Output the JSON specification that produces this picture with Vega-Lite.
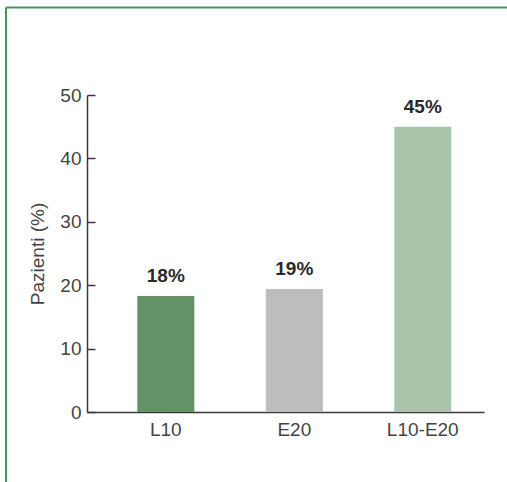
{
  "$schema": "https://vega.github.io/schema/vega-lite/v6.json",
  "width": 397,
  "height": 317,
  "autosize": "none",
  "padding": {"left": 87, "top": 95, "right": 23, "bottom": 70},
  "config": {
    "view": {"stroke": null},
    "font": "Liberation Sans",
    "axis": {
      "domainColor": "#3a3a3a",
      "domainWidth": 1.5,
      "tickColor": "#3a3a3a",
      "tickWidth": 1.5,
      "labelColor": "#444444",
      "labelFont": "Liberation Sans",
      "labelFontSize": 19,
      "titleColor": "#444444",
      "titleFont": "Liberation Sans",
      "titleFontSize": 19,
      "titleFontWeight": "normal",
      "grid": false
    }
  },
  "layer": [
    {
      "data": {
        "values": [
          {"group": "L10", "value": 18.3, "label": "18%"},
          {"group": "E20", "value": 19.4, "label": "19%"},
          {"group": "L10-E20", "value": 45.0, "label": "45%"}
        ]
      },
      "encoding": {
        "x": {
          "field": "group",
          "type": "nominal",
          "sort": null,
          "scale": {"paddingInner": 0.556, "paddingOuter": 0.323, "align": 0.606},
          "axis": {"title": null, "labelAngle": 0, "ticks": false, "labelPadding": 8}
        },
        "y": {
          "field": "value",
          "type": "quantitative",
          "scale": {"domain": [0, 50], "nice": false},
          "axis": {
            "title": "Pazienti (%)",
            "values": [0, 10, 20, 30, 40, 50],
            "tickSize": -8,
            "labelPadding": 14,
            "titlePadding": 12
          }
        }
      },
      "layer": [
        {
          "mark": {"type": "bar"},
          "encoding": {
            "color": {
              "field": "group",
              "type": "nominal",
              "scale": {"domain": ["L10", "E20", "L10-E20"], "range": ["#629265", "#bcbdbf", "#a9c4a9"]},
              "legend": null
            }
          }
        },
        {
          "mark": {"type": "text", "baseline": "bottom", "dy": -10, "fontSize": 19, "fontWeight": "bold", "color": "#2a2a2a", "font": "Liberation Sans"},
          "encoding": {"text": {"field": "label", "type": "nominal"}}
        }
      ]
    },
    {
      "data": {
        "values": [
          {"fx": -0.204, "fy": 63.8, "fx2": 1.1, "fy2": 63.8},
          {"fx": -0.204, "fy": -12, "fx2": -0.204, "fy2": 63.8}
        ]
      },
      "mark": {"type": "rule", "color": "#46935f", "strokeWidth": 2, "clip": false},
      "encoding": {
        "x": {"field": "fx", "type": "quantitative", "scale": {"domain": [0, 1], "nice": false, "zero": false}, "axis": null},
        "x2": {"field": "fx2"},
        "y": {"field": "fy", "type": "quantitative", "scale": {"domain": [0, 50], "nice": false, "zero": false}, "axis": null},
        "y2": {"field": "fy2"}
      }
    }
  ],
  "resolve": {"scale": {"x": "independent", "y": "independent"}}
}
